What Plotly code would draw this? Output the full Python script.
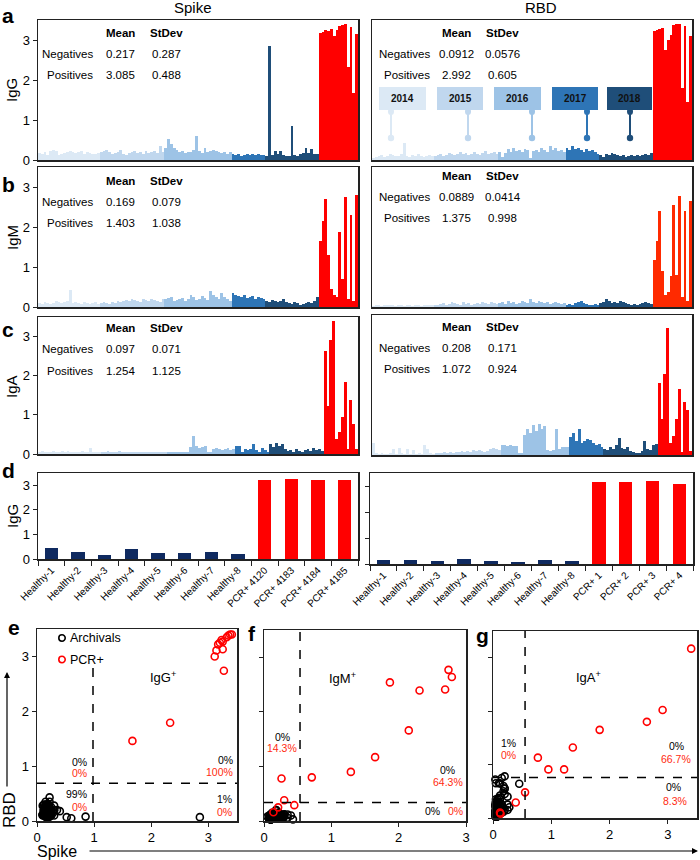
import plotly.graph_objects as go

W, H = 700, 860
def px(x): return x / W
def py(y): return 1 - y / H

FONT = "Arial, Liberation Sans, sans-serif"
RED = "#ff0000"
RED_B = "#ff2a00"
TXT_RED = "#ff2a10"
NAVY = "#0f2a60"

# ---------------- data ----------------
years = ["2014", "2015", "2016", "2017", "2018"]
year_sizes = [22, 23, 24, 12, 19]
year_colors = ["#dce9f5", "#c0d7ee", "#9dc3e6", "#2e75b6", "#1f4e79"]

spike_igg_neg = [0.18,0.15,0.20,0.12,0.22,0.25,0.22,0.13,0.15,0.18,0.20,0.22,0.20,0.18,0.20,0.22,0.15,0.20,0.18,0.15,0.16,0.18,
                 0.20,0.22,0.25,0.20,0.15,0.18,0.20,0.25,0.15,0.12,0.18,0.20,0.22,0.18,0.20,0.15,0.22,0.18,0.20,0.22,0.18,0.35,0.20,
                 0.30,0.52,0.40,0.30,0.25,0.20,0.22,0.18,0.20,0.20,0.25,0.60,0.22,0.18,0.30,0.20,0.22,0.25,0.22,0.20,0.18,0.20,0.15,0.20,
                 0.15,0.13,0.15,0.10,0.12,0.15,0.12,0.15,0.13,0.15,0.12,0.13,
                 0.10,2.85,0.12,0.22,0.15,0.22,0.12,0.10,0.10,0.85,0.12,0.10,0.15,0.18,0.30,0.18,0.28,0.15,0.15]
rbd_igg_neg = [0.05,0.08,0.10,0.12,0.08,0.10,0.15,0.12,0.10,0.10,0.15,0.43,0.10,0.08,0.12,0.10,0.15,0.10,0.08,0.10,0.12,0.10,
               0.10,0.12,0.15,0.10,0.12,0.18,0.15,0.12,0.15,0.20,0.15,0.18,0.12,0.15,0.20,0.15,0.12,0.18,0.22,0.15,0.18,0.20,0.15,
               0.20,0.07,0.18,0.28,0.20,0.30,0.22,0.25,0.20,0.28,0.25,0.05,0.22,0.25,0.20,0.30,0.25,0.20,0.35,0.25,0.30,0.22,0.25,0.20,
               0.30,0.25,0.35,0.28,0.30,0.25,0.20,0.28,0.22,0.25,0.20,0.15,
               0.12,0.07,0.15,0.12,0.18,0.15,0.12,0.10,0.12,0.08,0.10,0.12,0.10,0.12,0.10,0.12,0.15,0.12,0.18]
spike_igg_pos = [3.17,3.20,3.25,3.23,3.27,3.11,3.25,3.35,3.38,3.41,2.33,3.32,1.67,3.14]
rbd_igg_pos = [3.22,3.25,3.27,3.30,2.74,3.00,3.13,3.38,3.40,3.40,1.79,3.35,1.46,3.11]

spike_igm_neg = [0.10,0.08,0.12,0.10,0.08,0.10,0.15,0.12,0.10,0.12,0.15,0.43,0.10,0.12,0.10,0.08,0.12,0.10,0.08,0.10,0.12,0.08,
                 0.10,0.12,0.10,0.08,0.12,0.10,0.15,0.12,0.15,0.18,0.15,0.20,0.18,0.15,0.12,0.20,0.18,0.15,0.20,0.18,0.15,0.12,0.20,
                 0.20,0.22,0.25,0.15,0.18,0.20,0.22,0.15,0.20,0.30,0.25,0.18,0.20,0.28,0.22,0.18,0.40,0.30,0.25,0.20,0.35,0.25,0.20,0.15,
                 0.35,0.30,0.28,0.25,0.30,0.22,0.25,0.28,0.20,0.25,0.22,0.20,
                 0.15,0.12,0.18,0.15,0.12,0.15,0.20,0.12,0.10,0.08,0.12,0.10,0.05,0.08,0.10,0.12,0.10,0.15,0.25]
rbd_igm_neg = [0.03,0.04,0.05,0.03,0.04,0.05,0.06,0.04,0.03,0.05,0.04,0.03,0.04,0.05,0.03,0.04,0.05,0.03,0.04,0.05,0.06,0.04,
               0.05,0.06,0.08,0.10,0.06,0.08,0.12,0.10,0.08,0.06,0.12,0.08,0.10,0.06,0.08,0.10,0.08,0.12,0.10,0.08,0.12,0.10,0.08,
               0.10,0.12,0.08,0.15,0.10,0.12,0.08,0.10,0.15,0.12,0.10,0.20,0.12,0.10,0.15,0.12,0.10,0.12,0.08,0.10,0.12,0.10,0.08,0.10,
               0.06,0.08,0.05,0.10,0.12,0.15,0.10,0.08,0.06,0.05,0.08,0.06,
               0.10,0.12,0.20,0.15,0.10,0.12,0.10,0.15,0.12,0.10,0.08,0.06,0.08,0.05,0.08,0.10,0.12,0.10,0.08]
spike_igm_pos = [1.65,2.15,2.69,1.29,0.45,0.30,0.26,1.87,0.71,2.74,0.21,2.31,0.14,2.79]
rbd_igm_pos = [1.17,1.66,2.41,0.90,0.29,0.38,0.78,2.54,0.80,2.77,0.25,2.39,0.16,2.64]

spike_iga_neg = [0.05,0.07,0.05,0.06,0.05,0.07,0.06,0.05,0.07,0.06,0.08,0.06,0.05,0.06,0.05,0.07,0.06,0.05,0.15,0.05,0.04,0.05,
                 0.06,0.05,0.07,0.06,0.05,0.06,0.07,0.05,0.06,0.05,0.04,0.05,0.06,0.04,0.05,0.04,0.05,0.06,0.05,0.06,0.05,0.06,0.05,
                 0.05,0.04,0.06,0.05,0.04,0.06,0.05,0.06,0.18,0.45,0.20,0.15,0.18,0.20,0.05,0.04,0.12,0.15,0.12,0.10,0.12,0.15,0.10,0.12,
                 0.20,0.20,0.05,0.12,0.10,0.12,0.25,0.10,0.05,0.15,0.10,0.05,
                 0.25,0.18,0.28,0.20,0.25,0.12,0.08,0.10,0.06,0.12,0.08,0.05,0.10,0.12,0.08,0.15,0.10,0.12,0.08]
rbd_iga_neg = [0.30,0.05,0.03,0.04,0.03,0.03,0.04,0.15,0.03,0.18,0.04,0.03,0.15,0.03,0.12,0.03,0.04,0.03,0.25,0.15,0.04,0.03,
               0.05,0.06,0.05,0.07,0.06,0.08,0.06,0.07,0.08,0.10,0.08,0.10,0.08,0.12,0.10,0.12,0.10,0.08,0.10,0.15,0.18,0.15,0.12,
               0.25,0.25,0.22,0.25,0.22,0.22,0.05,0.05,0.50,0.64,0.55,0.75,0.60,0.78,0.65,0.72,0.12,0.10,0.12,0.65,0.15,0.20,0.20,0.20,
               0.45,0.55,0.35,0.65,0.30,0.35,0.40,0.38,0.30,0.25,0.28,0.20,
               0.15,0.12,0.20,0.15,0.25,0.42,0.18,0.15,0.20,0.10,0.08,0.06,0.05,0.10,0.35,0.15,0.12,0.25,0.28]
spike_iga_pos = [2.64,1.22,2.91,3.40,0.39,0.55,0.95,1.83,0.13,1.37,0.77,0.12]
rbd_iga_pos = [1.80,0.91,2.02,3.17,0.29,0.48,0.91,1.65,0.08,1.32,1.13,0.10]

stat_rows = ["Negatives", "Positives"]
stats_spike_igg = [["0.217", "0.287"], ["3.085", "0.488"]]
stats_rbd_igg = [["0.0912", "0.0576"], ["2.992", "0.605"]]
stats_spike_igm = [["0.169", "0.079"], ["1.403", "1.038"]]
stats_rbd_igm = [["0.0889", "0.0414"], ["1.375", "0.998"]]
stats_spike_iga = [["0.097", "0.071"], ["1.254", "1.125"]]
stats_rbd_iga = [["0.208", "0.171"], ["1.072", "0.924"]]

d_spike_labels = ["Healthy-1","Healthy-2","Healthy-3","Healthy-4","Healthy-5","Healthy-6","Healthy-7","Healthy-8",
                  "PCR+ 4120","PCR+ 4183","PCR+ 4184","PCR+ 4185"]
d_spike_values = [0.43,0.30,0.18,0.41,0.23,0.24,0.28,0.21,3.23,3.26,3.20,3.22]
d_rbd_labels = ["Healthy-1","Healthy-2","Healthy-3","Healthy-4","Healthy-5","Healthy-6","Healthy-7","Healthy-8",
                "PCR+ 1","PCR+ 2","PCR+ 3","PCR+ 4"]
d_rbd_values = [0.15,0.15,0.10,0.18,0.13,0.09,0.14,0.10,3.14,3.15,3.18,3.08]

thr_e = [0.98, 0.69]
thr_f = [0.535, 0.34]
thr_g = [0.55, 0.76]

legend_names = ["Archivals", "PCR+"]
legend_colors = ["black", RED]

# ---------------- figure ----------------
fig = go.Figure()
layout = dict(template="none", width=W, height=H, margin=dict(l=0, r=0, t=0, b=0, pad=0), autosize=False,
              paper_bgcolor="white", plot_bgcolor="white", barmode="overlay", bargap=0,
              font=dict(family=FONT, color="black", size=12), showlegend=False)
annotations = []
shapes = []

def ann(x, y, text, size=12, bold=False, xanchor="center", color="black", angle=0, **kw):
    t = f"<b>{text}</b>" if bold else text
    annotations.append(dict(x=px(x), y=py(y), xref="paper", yref="paper", text=t, showarrow=False,
                            xanchor=xanchor, yanchor="middle", textangle=angle,
                            font=dict(size=size, color=color, family=FONT), **kw))

def box_axis(**kw):
    d = dict(showline=True, linecolor="#222", linewidth=1.5, mirror=True, showgrid=False, zeroline=False,
             automargin=False, tickcolor="#222", tickwidth=1)
    d.update(kw)
    return d

def bar_colors(n_pos, pos_color):
    cols = []
    for c, n in zip(year_colors, year_sizes):
        cols += [c] * n
    return cols + [pos_color] * n_pos

bar_panels = [
    ("", spike_igg_neg, spike_igg_pos, (38, 358), (20, 160), True, RED, stats_spike_igg),
    ("2", rbd_igg_neg, rbd_igg_pos, (372, 692), (20, 160), False, RED, stats_rbd_igg),
    ("3", spike_igm_neg, spike_igm_pos, (38, 358), (167, 307), True, RED, stats_spike_igm),
    ("4", rbd_igm_neg, rbd_igm_pos, (372, 692), (167, 307), False, RED_B, stats_rbd_igm),
    ("5", spike_iga_neg, spike_iga_pos, (38, 358), (317, 454), True, RED, stats_spike_iga),
    ("6", rbd_iga_neg, rbd_iga_pos, (372, 692), (315, 455), False, RED, stats_rbd_iga),
]
stat_y = {"": (33, 54, 75), "2": (33, 54, 75), "3": (181, 202, 223), "4": (176, 197, 218),
          "5": (328, 349, 371), "6": (327, 348, 369)}

for s, neg, pos, xd, yd, left, pc, st in bar_panels:
    vals = neg + pos
    n = len(vals)
    fig.add_trace(go.Bar(x=list(range(n)), y=vals, marker=dict(color=bar_colors(len(pos), pc), line=dict(width=0)),
                         xaxis="x" + s, yaxis="y" + s, showlegend=False, hoverinfo="skip"))
    layout["xaxis" + s] = box_axis(domain=[px(xd[0]), px(xd[1])], anchor="y" + s, range=[-0.5, n - 0.5],
                                   showticklabels=False, ticks="")
    layout["yaxis" + s] = box_axis(domain=[py(yd[1]), py(yd[0])], anchor="x" + s, range=[0, 3.5],
                                   tickvals=[0, 1, 2, 3], showticklabels=left, ticks="outside" if left else "",
                                   ticklen=4, tickfont=dict(size=13))
    hy, ny, pyy = stat_y[s]
    if left:
        xl, xm, xs = 95, 120, 166
    else:
        xl, xm, xs = 432, 457, 503
    ann(xm, hy, "Mean", 11.5, True)
    ann(xs, hy, "StDev", 11.5, True)
    for (row, vals_row, yy) in zip(stat_rows, st, (ny, pyy)):
        ann(xl, yy, row, 11.5, xanchor="right")
        ann(xm, yy, vals_row[0], 11.5)
        ann(xs, yy, vals_row[1], 11.5)

# panel d
for s, labels, values, xd, yd, showlab in [("7", d_spike_labels, d_spike_values, (38, 358), (473, 559), True),
                                           ("8", d_rbd_labels, d_rbd_values, (370, 693), (473, 564), False)]:
    cols = [NAVY if l.startswith("Healthy") else RED for l in labels]
    fig.add_trace(go.Bar(x=labels, y=values, width=0.5, marker=dict(color=cols, line=dict(width=0)),
                         xaxis="x" + s, yaxis="y" + s, showlegend=False, hoverinfo="skip"))
    layout["xaxis" + s] = box_axis(domain=[px(xd[0]), px(xd[1])], anchor="y" + s, type="category",
                                   tickson="boundaries", ticks="outside", ticklen=5, tickangle=-45,
                                   tickfont=dict(size=10))
    layout["yaxis" + s] = box_axis(domain=[py(yd[1]), py(yd[0])], anchor="x" + s, range=[0, 3.5],
                                   tickvals=[0, 1, 2, 3], showticklabels=showlab, ticks="outside", ticklen=4,
                                   tickfont=dict(size=13))

# scatter panels
scatter_panels = [
    ("9", spike_igg_neg, rbd_igg_neg, spike_igg_pos, rbd_igg_pos, (37, 237), (629, 821), 3.5, True),
    ("10", spike_igm_neg, rbd_igm_neg, spike_igm_pos, rbd_igm_pos, (264, 466), (630, 821), 3.0, False),
    ("11", spike_iga_neg, rbd_iga_neg, spike_iga_pos, rbd_iga_pos, (493, 697), (631, 818), 3.5, False),
]
for s, xn, yn, xp, yp, xd, yd, xmax, ylab in scatter_panels:
    for nm, col, xs_, ys_ in [(legend_names[0], legend_colors[0], xn, yn), (legend_names[1], legend_colors[1], xp, yp)]:
        fig.add_trace(go.Scatter(x=xs_, y=ys_, mode="markers", name=nm, showlegend=False,
                                 marker=dict(symbol="circle-open", size=7, color=col, line=dict(width=1.6)),
                                 xaxis="x" + s, yaxis="y" + s, hoverinfo="skip", cliponaxis=False))
    layout["xaxis" + s] = box_axis(domain=[px(xd[0]), px(xd[1])], anchor="y" + s, range=[0, xmax],
                                   tickvals=[0, 1, 2, 3], ticks="outside", ticklen=4, tickfont=dict(size=13))
    layout["yaxis" + s] = box_axis(domain=[py(yd[1]), py(yd[0])], anchor="x" + s, range=[0, 3.5],
                                   tickvals=[0, 1, 2, 3], showticklabels=ylab, ticks="outside", ticklen=4,
                                   tickfont=dict(size=13))

# legend key for panel e (drawn as decoration)
for i, (nm, col) in enumerate(zip(legend_names, legend_colors)):
    cy = 638 + 21.5 * i
    shapes.append(dict(type="circle", xref="paper", yref="paper", x0=px(58.8), x1=px(65.2),
                       y0=py(cy + 3.2), y1=py(cy - 3.2), line=dict(color=col, width=1.6), fillcolor="rgba(0,0,0,0)"))
    ann(68, cy, nm, 12.5, xanchor="left")

def dline(s, x0, y0, x1, y1):
    shapes.append(dict(type="line", xref="x" + s, yref="y" + s, x0=x0, y0=y0, x1=x1, y1=y1,
                       line=dict(color="black", width=1.5, dash="dash")))

dline("9", thr_e[0], 0, thr_e[0], 2.81)
dline("9", 0, thr_e[1], 3.5, thr_e[1])
dline("10", thr_f[0], 0, thr_f[0], 3.5)
dline("10", 0, thr_f[1], 3.0, thr_f[1])
dline("11", thr_g[0], 0, thr_g[0], 3.5)
dline("11", 0, thr_g[1], 3.5, thr_g[1])

def qlab(s, x, y, text, color="black", xanchor="center", size=10.5):
    annotations.append(dict(x=x, y=y, xref="x" + s, yref="y" + s, text=text, showarrow=False,
                            xanchor=xanchor, yanchor="middle", font=dict(size=size, color=color, family=FONT)))

qlab("9", 0.91, 1.08, "0%", xanchor="right")
qlab("9", 0.91, 0.87, "0%", TXT_RED, "right")
qlab("9", 0.91, 0.50, "99%", xanchor="right")
qlab("9", 0.91, 0.26, "0%", TXT_RED, "right")
qlab("9", 3.47, 1.12, "0%", xanchor="right")
qlab("9", 3.47, 0.90, "100%", TXT_RED, "right")
qlab("9", 3.44, 0.40, "1%", xanchor="right")
qlab("9", 3.44, 0.17, "0%", TXT_RED, "right")
qlab("9", 2.21, 2.62, "IgG<sup>+</sup>", size=13)

qlab("10", 1.17, 2.62, "IgM<sup>+</sup>", size=13)
qlab("10", 0.27, 1.54, "0%")
qlab("10", 0.27, 1.33, "14.3%", TXT_RED)
qlab("10", 2.73, 0.93, "0%")
qlab("10", 2.73, 0.71, "64.3%", TXT_RED)
qlab("10", 2.50, 0.19, "0%")
qlab("10", 2.84, 0.19, "0%", TXT_RED)

qlab("11", 1.64, 2.63, "IgA<sup>+</sup>", size=13)
qlab("11", 0.27, 1.40, "1%")
qlab("11", 0.27, 1.17, "0%", TXT_RED)
qlab("11", 3.14, 1.35, "0%")
qlab("11", 3.14, 1.11, "66.7%", TXT_RED)
qlab("11", 3.10, 0.58, "0%")
qlab("11", 3.13, 0.32, "8.3%", TXT_RED)

# year label boxes in RBD IgG panel
box_x = [(379, 426), (437, 483), (494, 541), (552, 598), (607, 652)]
pin_x = [391, 468, 532, 587, 630]
for yr, col, (bx0, bx1), pxx in zip(years, year_colors, box_x, pin_x):
    shapes.append(dict(type="rect", xref="paper", yref="paper", x0=px(bx0), x1=px(bx1), y0=py(110), y1=py(87),
                       fillcolor=col, line=dict(width=0), layer="above"))
    shapes.append(dict(type="circle", xref="paper", yref="paper", x0=px(pxx - 3), x1=px(pxx + 3),
                       y0=py(115), y1=py(108), fillcolor=col, line=dict(width=0), layer="above"))
    shapes.append(dict(type="line", xref="paper", yref="paper", x0=px(pxx), x1=px(pxx), y0=py(112), y1=py(137),
                       line=dict(color=col, width=2), layer="above"))
    shapes.append(dict(type="circle", xref="paper", yref="paper", x0=px(pxx - 3.2), x1=px(pxx + 3.2),
                       y0=py(141.2), y1=py(134.8), fillcolor=col, line=dict(width=0), layer="above"))
    ann((bx0 + bx1) / 2, 99, yr, 10, True, color="#111")

# titles and labels
ann(193, 8, "Spike", 15)
ann(541, 8, "RBD", 15)
for lt, xx, yy in [("a", 8, 15), ("b", 8, 185), ("c", 8, 329), ("d", 8, 470), ("e", 14, 627), ("f", 252, 633), ("g", 482, 635)]:
    ann(xx, yy, lt, 21, True)
for lt, yy in [("IgG", 90), ("IgM", 238), ("IgA", 387), ("IgG", 516)]:
    ann(12, yy, lt, 15, angle=-90)
ann(9, 810, "RBD", 17, angle=-90)
ann(57, 851.5, "Spike", 16)
annotations.append(dict(x=px(698), y=py(851), xref="paper", yref="paper", text="", showarrow=True,
                        ax=-(698 - 88), ay=0, arrowhead=2, arrowsize=1, arrowwidth=1.2, arrowcolor="black"))
annotations.append(dict(x=px(7), y=py(672), xref="paper", yref="paper", text="", showarrow=True,
                        ax=0, ay=(788 - 672), arrowhead=2, arrowsize=1, arrowwidth=1.2, arrowcolor="black"))

layout["annotations"] = annotations
layout["shapes"] = shapes
fig.update_layout(**layout)
fig.write_html("out.html", config={"displayModeBar": False, "staticPlot": True},
               post_script="document.body.style.margin='0px';document.body.style.overflow='hidden';")
